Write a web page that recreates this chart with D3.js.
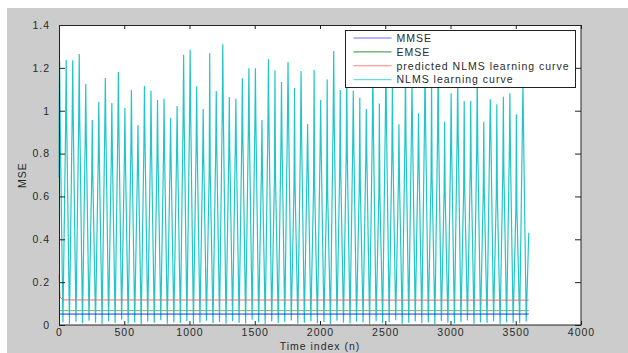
<!DOCTYPE html>
<html>
<head>
<meta charset="utf-8">
<script src="https://cdn.jsdelivr.net/npm/d3@7"></script>
<style>
  html, body { margin: 0; padding: 0; background: #fff; }
  text { font-family: "Liberation Sans", Arial, sans-serif; font-size: 10.5px; letter-spacing: 1px; fill: #2a2a2a; }
</style>
</head>
<body>
<div id="chart"></div>
<script>
// Tick values
let xTicks = [0, 500, 1000, 1500, 2000, 2500, 3000, 3500, 4000];
let yTicks = [0, 0.2, 0.4, 0.6, 0.8, 1, 1.2, 1.4];

// Flat reference curves (time index, value)
let mmseN = [0, 3600], mmseV = [0.051, 0.051];
let emseN = [0, 3600], emseV = [0.067, 0.067];
let predN = [0, 8, 30, 3600], predV = [0.233, 0.13, 0.117, 0.116];

// NLMS learning curve, read spike by spike (one spike every 50 samples, first at n = 5)
let nlmsStart = 0.69, nlmsEnd = 0.43;
let nlmsPeaks = [1.232, 1.237, 1.235, 1.265, 1.125, 0.957, 1.041, 1.153, 1.036, 1.181,
  1.013, 1.097, 0.933, 1.115, 1.093, 1.05, 1.056, 0.966, 1.022, 1.261,
  1.285, 1.114, 1.008, 1.269, 1.092, 1.31, 1.064, 1.056, 1.151, 1.198,
  1.198, 0.957, 1.24, 1.188, 1.134, 1.227, 1.106, 1.185, 0.937, 1.19,
  1.05, 1.146, 1.279, 1.097, 1.18, 1.093, 1.06, 1.008, 1.2, 1.034,
  1.25, 1.15, 0.937, 1.2, 1.13, 0.988, 1.22, 1.15, 1.26, 0.949,
  1.081, 1.17, 1.045, 1.045, 1.19, 0.949, 1.054, 1.03, 1.065, 1.081,
  0.983, 1.12];
let nlmsShoulders = [0.95, 0.94, 0.97, 0.96, 0.88, 0.70, 0.79, 0.93, 0.80, 0.92,
  0.78, 0.83, 0.73, 0.86, 0.83, 0.78, 0.80, 0.76, 0.80, 0.96,
  0.99, 0.84, 0.78, 0.71, 0.83, 1.00, 0.80, 0.83, 0.88, 0.91,
  0.94, 0.72, 0.94, 0.69, 0.86, 0.97, 0.65, 0.89, 0.75, 0.65,
  0.83, 0.61, 0.97, 0.72, 0.80, 0.85, 0.65, 0.78, 0.92, 0.61,
  0.97, 0.81, 0.68, 0.87, 0.92, 0.76, 0.95, 0.69, 0.89, 0.62,
  0.82, 0.89, 0.64, 0.72, 0.83, 0.62, 0.90, 0.61, 0.72, 0.81,
  0.54, 0.94];
let nlmsValleys = [0.012, 0.006, 0.015, 0.008, 0.02, 0.01, 0.005, 0.018, 0.009, 0.025,
  0.007, 0.012, 0.004, 0.016, 0.01, 0.022, 0.006, 0.013, 0.009, 0.018,
  0.005, 0.011, 0.02, 0.008, 0.014, 0.006, 0.019, 0.01, 0.007, 0.024,
  0.012, 0.005, 0.016, 0.009, 0.013, 0.021, 0.006, 0.011, 0.017, 0.008,
  0.014, 0.005, 0.02, 0.01, 0.007, 0.015, 0.012, 0.004, 0.018, 0.009,
  0.013, 0.022, 0.006, 0.011, 0.016, 0.008, 0.012, 0.005, 0.019, 0.01,
  0.007, 0.014, 0.021, 0.006, 0.012, 0.009, 0.017, 0.005, 0.013, 0.01,
  0.008, 0.015];

let legendLabels = ["MMSE", "EMSE", "predicted NLMS learning curve", "NLMS learning curve"];
let legendColors = ["#6a6aff", "#2e8b3a", "#ff7f7f", "#40d6d6"];

// Drawing area
let W = 628, H = 353;
let margin = { top: 25, right: 47, bottom: 28, left: 59 };
let width = W - margin.left - margin.right,
    height = H - margin.top - margin.bottom;

let svg = d3.select("#chart").append("svg")
    .attr("width", W)
    .attr("height", H);

// MATLAB-style grey figure background
svg.append("rect").attr("x", 7).attr("y", 8).attr("width", W - 7).attr("height", H - 8).attr("fill", "#cccccc");

let g = svg.append("g").attr("transform", "translate(" + margin.left + "," + margin.top + ")");

g.append("rect").attr("width", width).attr("height", height).attr("fill", "#fff");

let x = d3.scaleLinear().domain([0, 4000]).range([0, width]);
let y = d3.scaleLinear().domain([0, 1.4]).range([height, 0]);

let line = d3.line().x(d => x(d[0])).y(d => y(d[1]));

// Build the NLMS curve points
let nlms = [[0, nlmsStart]];
nlmsPeaks.forEach((p, i) => {
  let n = 5 + 50 * i;
  if (i > 0) nlms.push([n - 25, nlmsValleys[i - 1]]);
  nlms.push([n - 4, nlmsShoulders[i]]);
  nlms.push([n, p]);
  nlms.push([n + 4, nlmsShoulders[i]]);
});
nlms.push([5 + 50 * (nlmsPeaks.length - 1) + 25, nlmsValleys[nlmsPeaks.length - 1]]);
nlms.push([3600, nlmsEnd]);

let plot = g.append("g");

plot.append("path")
    .datum(nlms)
    .attr("fill", "none")
    .attr("stroke", "#22c6c6")
    .attr("stroke-width", 1.2)
    .attr("d", line);

plot.append("path")
    .datum(emseN.map((n, i) => [n, emseV[i]]))
    .attr("fill", "none").attr("stroke", "#5cb878").attr("stroke-width", 1)
    .attr("d", line);

plot.append("path")
    .datum(mmseN.map((n, i) => [n, mmseV[i]]))
    .attr("fill", "none").attr("stroke", "#2a2af0").attr("stroke-width", 1)
    .attr("d", line);

plot.append("path")
    .datum(predN.map((n, i) => [n, predV[i]]))
    .attr("fill", "none").attr("stroke", "#f06a6a").attr("stroke-width", 1)
    .attr("d", line);

// Axes, ticks inside on all four sides
let xAxis = d3.axisBottom(x).tickValues(xTicks).tickSizeInner(-4).tickSizeOuter(0).tickPadding(4).tickFormat(d3.format("d"));
let yAxis = d3.axisLeft(y).tickValues(yTicks).tickSizeInner(-6).tickSizeOuter(0).tickPadding(9).tickFormat(d => d3.format("~g")(d));

let gx = g.append("g").attr("transform", "translate(0," + height + ")").call(xAxis);
let gy = g.append("g").call(yAxis);
let gxTop = g.append("g").call(d3.axisTop(x).tickValues(xTicks).tickSizeInner(-4).tickSizeOuter(0).tickFormat(""));
let gyRight = g.append("g").attr("transform", "translate(" + width + ",0)")
    .call(d3.axisRight(y).tickValues(yTicks).tickSizeInner(-6).tickSizeOuter(0).tickFormat(""));

[gx, gy, gxTop, gyRight].forEach(a => {
  a.select(".domain").remove();
  a.selectAll("line").attr("stroke", "#222");
  a.selectAll("text").attr("fill", "#2a2a2a");
  a.attr("font-size", null).attr("font-family", null);
});

g.append("rect")
    .attr("x", 0.5).attr("y", 0.5)
    .attr("width", width - 0.5).attr("height", height - 0.5)
    .attr("fill", "none").attr("stroke", "#222").attr("stroke-width", 1);

// Axis titles
svg.append("text")
    .attr("x", margin.left + width / 2)
    .attr("y", H - 3.5)
    .attr("text-anchor", "middle")
    .text("Time index (n)");

svg.append("text")
    .attr("transform", "translate(26," + (margin.top + height / 2) + ") rotate(-90)")
    .attr("text-anchor", "middle")
    .text("MSE");

// Legend
let lg = svg.append("g").attr("transform", "translate(345.5,30.5)");
lg.append("rect").attr("width", 230).attr("height", 57)
    .attr("fill", "#fff").attr("stroke", "#222").attr("stroke-width", 1);

legendLabels.forEach((lab, i) => {
  let cy = 7.5 + i * 13.9;
  lg.append("line").attr("x1", 8).attr("x2", 46).attr("y1", cy).attr("y2", cy)
      .attr("stroke", legendColors[i]).attr("stroke-width", 1);
  lg.append("text").attr("x", 51).attr("y", cy).attr("dy", "0.36em").text(lab);
});
</script>
</body>
</html>
